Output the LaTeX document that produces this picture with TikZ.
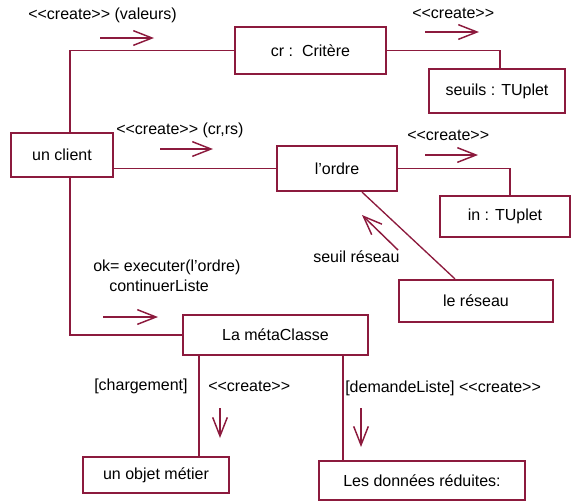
\documentclass[tikz,border=0pt]{standalone}
\usepackage{fontspec}
\setmainfont{Liberation Sans}
\usetikzlibrary{arrows.meta, calc}
\definecolor{bordeaux}{RGB}{140,26,61}
\newcommand{\stereo}{<{}<create>{}>}

\begin{document}
\begin{tikzpicture}[
    x=0.75pt, y=-0.75pt,
    font=\fontsize{12}{14}\selectfont,
    obj/.style={rectangle, draw=bordeaux, line width=1.6pt, inner sep=0pt},
    lien/.style={draw=bordeaux, line width=1pt},
    msg/.style={-{Straight Barb[length=14pt, width=11pt]}, draw=bordeaux, line width=1.1pt},
    lbl/.style={anchor=west, inner sep=0pt}
]
\useasboundingbox (0,0) rectangle (571,501);

% Objets
\node[obj, minimum width=113.25pt, minimum height=35.25pt] (cr) at (310.5,50.5) {cr :\ \ Critère};
\node[obj, minimum width=102pt, minimum height=33pt] (seuils) at (497,91) {seuils : TUplet};
\node[obj, minimum width=76.5pt, minimum height=33pt] (client) at (62,155) {un client};
\node[obj, minimum width=90pt, minimum height=33.75pt] (ordre) at (337,168.5) {l’ordre};
\node[obj, minimum width=97.5pt, minimum height=30.75pt] (intuplet) at (505,216.5) {in : TUplet};
\node[obj, minimum width=115.5pt, minimum height=31.5pt] (reseau) at (476,301) {le réseau};
\node[obj, minimum width=138.75pt, minimum height=30pt] (meta) at (275.5,335) {La métaClasse};
\node[obj, minimum width=109.5pt, minimum height=27pt] (objmetier) at (156,475) {un objet métier};
\node[obj, minimum width=154.5pt, minimum height=29.25pt] (donnees) at (422,480.5) {Les données réduites:};

% Liens
\draw[lien] ([xshift=6pt]client.north) |- (cr.west);
\draw[lien] (cr.east) -| ([xshift=2.25pt]seuils.north);
\draw[lien] (ordre.west -| client.east) -- (ordre.west);
\draw[lien] (ordre.east) -| ([xshift=3.75pt]intuplet.north);
\draw[lien] ($(ordre.south)+(25,0)$) -- ($(reseau.north)+(-21,0)$);
\draw[lien] ([xshift=6pt]client.south) |- (meta.west);
\draw[lien] ($(meta.south west)+(17,0)$) coordinate (m1) -- (m1 |- objmetier.north);
\draw[lien] ($(meta.south east)+(-26,0)$) coordinate (m2) -- (m2 |- donnees.north);

% Messages
\node[lbl] (msgcr) at (28,15) {\stereo\ (valeurs)};
\draw[msg] (100,38) -- (154,38);
\node[lbl] (msgseuils) at (412,13) {\stereo};
\draw[msg] (425,32) -- (479,32);
\node[lbl] (msgordre) at (116,130) {\stereo\ (cr,rs)};
\draw[msg] (160,149) -- (213,149);
\node[lbl] (msgin) at (407,135) {\stereo};
\draw[msg] (425,155) -- (478,155);
\node[lbl] (msgreseau) at (313,257) {seuil réseau};
\draw[msg] (398,250) -- (362,215);
\node[lbl] (msgexec) at (93,267) {ok= executer(l’ordre)};
\node[lbl] (msgliste) at (109,286) {continuerListe};
\draw[msg] (103,317) -- (158,317);
\node[lbl] (msgcharg) at (94,386) {[chargement]};
\node[lbl] (msgobj) at (208,386) {\stereo};
\draw[msg] (220,408) -- (220,438);
\node[lbl] (msgdem) at (345,388) {[demandeListe] \stereo};
\draw[msg] (361,408) -- (361,447);

\end{tikzpicture}
\end{document}
